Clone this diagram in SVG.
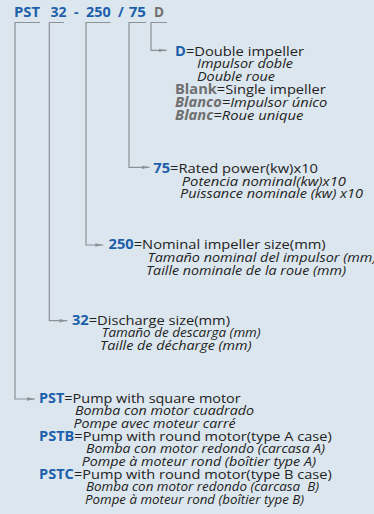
<svg xmlns="http://www.w3.org/2000/svg" width="374" height="514" viewBox="0 0 374 514">
<defs>
<style>
text{font-family:"Open Sans","Noto Sans","Liberation Sans",sans-serif;font-size:13.5px;fill:#232323;white-space:pre}
.t{font-size:14px}
.b{font-weight:bold;fill:#1c5fab}
.g{font-weight:bold;fill:#6f6f6f}
.i{font-style:italic}
.ln{fill:none;stroke:#8c9297;stroke-width:1.2}
</style>
<marker id="ah" viewBox="0 0 8 6" refX="8" refY="3" markerWidth="8" markerHeight="6" markerUnits="userSpaceOnUse" orient="auto"><path d="M0,1.3 L8,3 L0,4.7z" fill="#8c9297"/></marker>
</defs>
<rect width="374" height="514" fill="#dce6ee"/>
<g id="title">
<text class="b t" x="14" y="17.3" textLength="26" lengthAdjust="spacingAndGlyphs">PST</text>
<text class="b t" x="50.5" y="17.3" textLength="16" lengthAdjust="spacingAndGlyphs">32</text>
<text class="b t" x="74" y="17.3">-</text>
<text class="b t" x="86" y="17.3" textLength="24.7" lengthAdjust="spacingAndGlyphs">250</text>
<text class="b t" x="118" y="17.3">/</text>
<text class="b t" x="128.7" y="17.3" textLength="17.3" lengthAdjust="spacingAndGlyphs">75</text>
<text class="g t" x="154" y="17.3" textLength="10" lengthAdjust="spacingAndGlyphs">D</text>
</g>
<g id="connectors">
<path class="ln" d="M40,22.5H15V399H35" marker-end="url(#ah)"/>
<path class="ln" d="M64,22.5H49.3V320.7H67.3" marker-end="url(#ah)"/>
<path class="ln" d="M110.5,22.5H86V245H103.3" marker-end="url(#ah)"/>
<path class="ln" d="M146,22.5H129V167.3H149.5" marker-end="url(#ah)"/>
<path class="ln" d="M167,22.5H151V50.3H166.7" marker-end="url(#ah)"/>
</g>
<g id="node-d">
<text x="175" y="56" textLength="129" lengthAdjust="spacingAndGlyphs"><tspan class="b">D</tspan>=Double impeller</text>
<text class="i" x="197" y="68" textLength="96" lengthAdjust="spacingAndGlyphs">Impulsor doble</text>
<text class="i" x="197" y="81" textLength="78" lengthAdjust="spacingAndGlyphs">Double roue</text>
<text x="175" y="94" textLength="150.7" lengthAdjust="spacingAndGlyphs"><tspan class="g">Blank</tspan>=Single impeller</text>
<text class="i" x="175" y="107" textLength="152.3" lengthAdjust="spacingAndGlyphs"><tspan class="g">Blanco</tspan>=Impulsor único</text>
<text class="i" x="175" y="120" textLength="128.3" lengthAdjust="spacingAndGlyphs"><tspan class="g">Blanc</tspan>=Roue unique</text>
</g>
<g id="node-75">
<text x="153.3" y="173.3" textLength="164.7" lengthAdjust="spacingAndGlyphs"><tspan class="b">75</tspan>=Rated power(kw)x10</text>
<text class="i" x="181.7" y="185.8" textLength="164.3" lengthAdjust="spacingAndGlyphs">Potencia nominal(kw)x10</text>
<text class="i" x="180" y="198.3" textLength="183" lengthAdjust="spacingAndGlyphs">Puissance nominale (kw) x10</text>
</g>
<g id="node-250">
<text x="108.5" y="248.7" textLength="217.2" lengthAdjust="spacingAndGlyphs"><tspan class="b">250</tspan>=Nominal impeller size(mm)</text>
<text class="i" x="147.5" y="261.6" textLength="229" lengthAdjust="spacingAndGlyphs">Tamaño nominal del impulsor (mm)</text>
<text class="i" x="146" y="274.5" textLength="200" lengthAdjust="spacingAndGlyphs">Taille nominale de la roue (mm)</text>
</g>
<g id="node-32">
<text x="72" y="324.7" textLength="158" lengthAdjust="spacingAndGlyphs"><tspan class="b">32</tspan>=Discharge size(mm)</text>
<text class="i" x="101.7" y="337.3" textLength="159" lengthAdjust="spacingAndGlyphs">Tamaño de descarga (mm)</text>
<text class="i" x="100" y="350" textLength="151.7" lengthAdjust="spacingAndGlyphs">Taille de décharge (mm)</text>
</g>
<g id="node-pst">
<text x="39" y="402.7" textLength="201.7" lengthAdjust="spacingAndGlyphs"><tspan class="b">PST</tspan>=Pump with square motor</text>
<text class="i" x="75" y="415.3" textLength="179" lengthAdjust="spacingAndGlyphs">Bomba con motor cuadrado</text>
<text class="i" x="73.5" y="427.5" textLength="162.2" lengthAdjust="spacingAndGlyphs">Pompe avec moteur carré</text>
<text x="39" y="441" textLength="292.7" lengthAdjust="spacingAndGlyphs"><tspan class="b">PSTB</tspan>=Pump with round motor(type A case)</text>
<text class="i" x="86" y="453" textLength="239" lengthAdjust="spacingAndGlyphs">Bomba con motor redondo (carcasa A)</text>
<text class="i" x="81.7" y="465.5" textLength="234.3" lengthAdjust="spacingAndGlyphs">Pompe à moteur rond (boîtier type A)</text>
<text x="39" y="479" textLength="292.7" lengthAdjust="spacingAndGlyphs"><tspan class="b">PSTC</tspan>=Pump with round motor(type B case)</text>
<text class="i" x="86" y="491.2" textLength="233" lengthAdjust="spacingAndGlyphs">Bomba con motor redondo (carcasa  B)</text>
<text class="i" x="85" y="503.5" textLength="219" lengthAdjust="spacingAndGlyphs">Pompe à moteur rond (boîtier type B)</text>
</g>
</svg>
